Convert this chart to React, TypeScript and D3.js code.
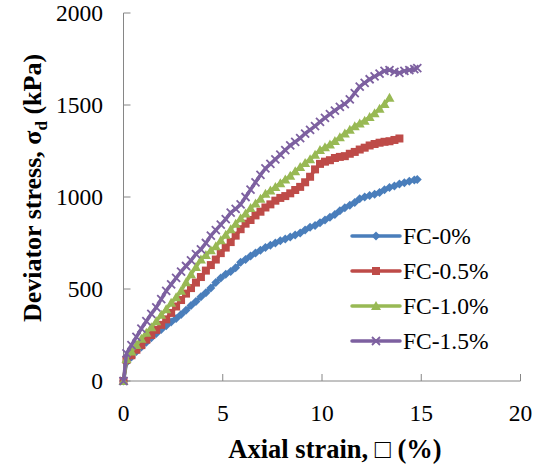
import React from "react";
import * as d3 from "d3";

const strain = [0, 0.15, 0.4, 0.65, 0.9, 1.15, 1.4, 1.65, 1.9, 2.15, 2.4, 2.65, 2.9, 3.15, 3.4, 3.65, 3.9, 4.15, 4.4, 4.65, 4.9, 5.15, 5.4, 5.65, 5.9, 6.15, 6.4, 6.65, 6.9, 7.15, 7.4, 7.65, 7.9, 8.15, 8.4, 8.65, 8.9, 9.15, 9.4, 9.65, 9.9, 10.15, 10.4, 10.65, 10.9, 11.15, 11.4, 11.65, 11.9, 12.15, 12.4, 12.65, 12.9, 13.15, 13.4, 13.65, 13.9, 14.15, 14.4, 14.65, 14.8];

const fc0 = [0, 100, 130, 160, 185, 210, 235, 258, 280, 300, 320, 340, 362, 385, 410, 432, 458, 480, 505, 535, 560, 580, 595, 615, 645, 660, 680, 695, 710, 725, 738, 750, 762, 772, 782, 793, 805, 820, 835, 845, 860, 875, 890, 905, 925, 942, 955, 970, 990, 1000, 1008, 1015, 1025, 1040, 1052, 1060, 1070, 1078, 1085, 1092, 1095];
const fc05 = [0, 115, 140, 170, 195, 225, 250, 278, 305, 335, 370, 405, 440, 475, 505, 535, 565, 600, 630, 660, 695, 725, 755, 790, 825, 855, 875, 900, 920, 943, 960, 980, 995, 1005, 1020, 1038, 1055, 1080, 1110, 1150, 1180, 1192, 1200, 1212, 1218, 1222, 1235, 1245, 1258, 1268, 1280, 1288, 1295, 1300, 1303, 1310, 1318];
const fc10 = [0, 120, 160, 195, 230, 262, 292, 325, 360, 390, 425, 455, 490, 537, 580, 620, 660, 685, 710, 732, 765, 795, 825, 855, 885, 910, 940, 965, 990, 1018, 1035, 1055, 1075, 1095, 1115, 1140, 1163, 1185, 1205, 1230, 1255, 1270, 1285, 1305, 1325, 1345, 1365, 1385, 1400, 1415, 1435, 1455, 1480, 1505, 1540];
const fc15 = [0, 150, 195, 240, 285, 325, 365, 400, 445, 490, 525, 560, 595, 625, 655, 690, 715, 750, 790, 820, 850, 880, 915, 935, 960, 1000, 1040, 1080, 1120, 1155, 1180, 1205, 1230, 1255, 1280, 1300, 1320, 1345, 1365, 1385, 1408, 1430, 1450, 1470, 1490, 1505, 1530, 1565, 1600, 1620, 1640, 1655, 1670, 1685, 1690, 1680, 1675, 1685, 1690, 1695, 1700];

const seriesNames = ["FC-0%", "FC-0.5%", "FC-1.0%", "FC-1.5%"];
const seriesValues = [fc0, fc05, fc10, fc15];
const seriesColors = ["#4A7EBB", "#BE4B48", "#98B954", "#7D60A0"];
const seriesMarkers = ["diamond", "square", "triangle", "cross"];

const xTicks = [0, 5, 10, 15, 20];
const yTicks = [0, 500, 1000, 1500, 2000];

const W = 535;
const H = 470;
const FONT = "'Liberation Serif', 'Times New Roman', serif";

function Marker({ kind, x, y, color }: { kind: string; x: number; y: number; color: string }) {
  if (kind === "diamond") {
    return <path d={`M${x},${y - 4.5}L${x + 4.5},${y}L${x},${y + 4.5}L${x - 4.5},${y}Z`} fill={color} />;
  }
  if (kind === "square") {
    return <rect x={x - 4} y={y - 4} width={8} height={8} fill={color} />;
  }
  if (kind === "triangle") {
    return <path d={`M${x},${y - 5}L${x + 5},${y + 4}L${x - 5},${y + 4}Z`} fill={color} />;
  }
  return (
    <path
      d={`M${x - 4},${y - 4}L${x + 4},${y + 4}M${x + 4},${y - 4}L${x - 4},${y + 4}`}
      stroke={color}
      strokeWidth={1.8}
    />
  );
}

export default function App() {
  const x = d3.scaleLinear().domain([0, 20]).range([123.5, 520.5]);
  const y = d3.scaleLinear().domain([0, 2000]).range([381, 13]);
  const line = d3
    .line<[number, number]>()
    .x((d) => x(d[0]))
    .y((d) => y(d[1]));

  const axisColor = "#868686";

  return (
    <svg width={W} height={H} style={{ position: "absolute", left: 0, top: 0, background: "#fff" }} fontFamily={FONT}>
      <rect x={0} y={0} width={W} height={H} fill="#fff" />
      {/* axes */}
      <line x1={x(0)} x2={x(0)} y1={y(2000)} y2={y(0)} stroke={axisColor} strokeWidth={1} />
      <line x1={x(0)} x2={x(20)} y1={y(0)} y2={y(0)} stroke={axisColor} strokeWidth={1} />
      {yTicks.map((t) => (
        <g key={"y" + t}>
          <line x1={x(0)} x2={x(0) + 7} y1={y(t)} y2={y(t)} stroke={axisColor} />
          <text x={103} y={y(t)} dy="0.35em" textAnchor="end" fontSize={23.5} fill="#000">
            {t}
          </text>
        </g>
      ))}
      {xTicks.map((t) => (
        <g key={"x" + t}>
          <line x1={x(t)} x2={x(t)} y1={y(0)} y2={y(0) - 7} stroke={axisColor} />
          <text x={x(t)} y={421} textAnchor="middle" fontSize={23.5} fill="#000">
            {t}
          </text>
        </g>
      ))}
      {/* series */}
      {seriesValues.map((vals, si) => {
        const pts: [number, number][] = vals.map((v, i) => [strain[i], v]);
        return (
          <g key={seriesNames[si]}>
            <path d={line(pts) || ""} fill="none" stroke={seriesColors[si]} strokeWidth={3.5} strokeLinejoin="round" />
            {pts.map((p, i) => (
              <Marker key={i} kind={seriesMarkers[si]} x={x(p[0])} y={y(p[1])} color={seriesColors[si]} />
            ))}
          </g>
        );
      })}
      {/* legend */}
      {seriesNames.map((name, i) => {
        const ly = 236 + i * 35;
        return (
          <g key={"lg" + name}>
            <line x1={352} x2={400} y1={ly} y2={ly} stroke={seriesColors[i]} strokeWidth={3.5} strokeLinecap="round" />
            <Marker kind={seriesMarkers[i]} x={376} y={ly} color={seriesColors[i]} />
            <text x={403} y={ly} dy="0.35em" fontSize={23.5} fill="#000">
              {name}
            </text>
          </g>
        );
      })}
      {/* axis titles */}
      <text x={335} y={458} textAnchor="middle" fontSize={26.5} fontWeight="bold" fill="#000">
        Axial strain, □ (%)
      </text>
      <text
        transform={`translate(41,188) rotate(-90)`}
        textAnchor="middle"
        fontSize={26}
        fontWeight="bold"
        fill="#000"
      >
        Deviator stress, σ
        <tspan fontSize={17} dy={6}>d</tspan>
        <tspan dy={-6}> (kPa)</tspan>
      </text>
    </svg>
  );
}
